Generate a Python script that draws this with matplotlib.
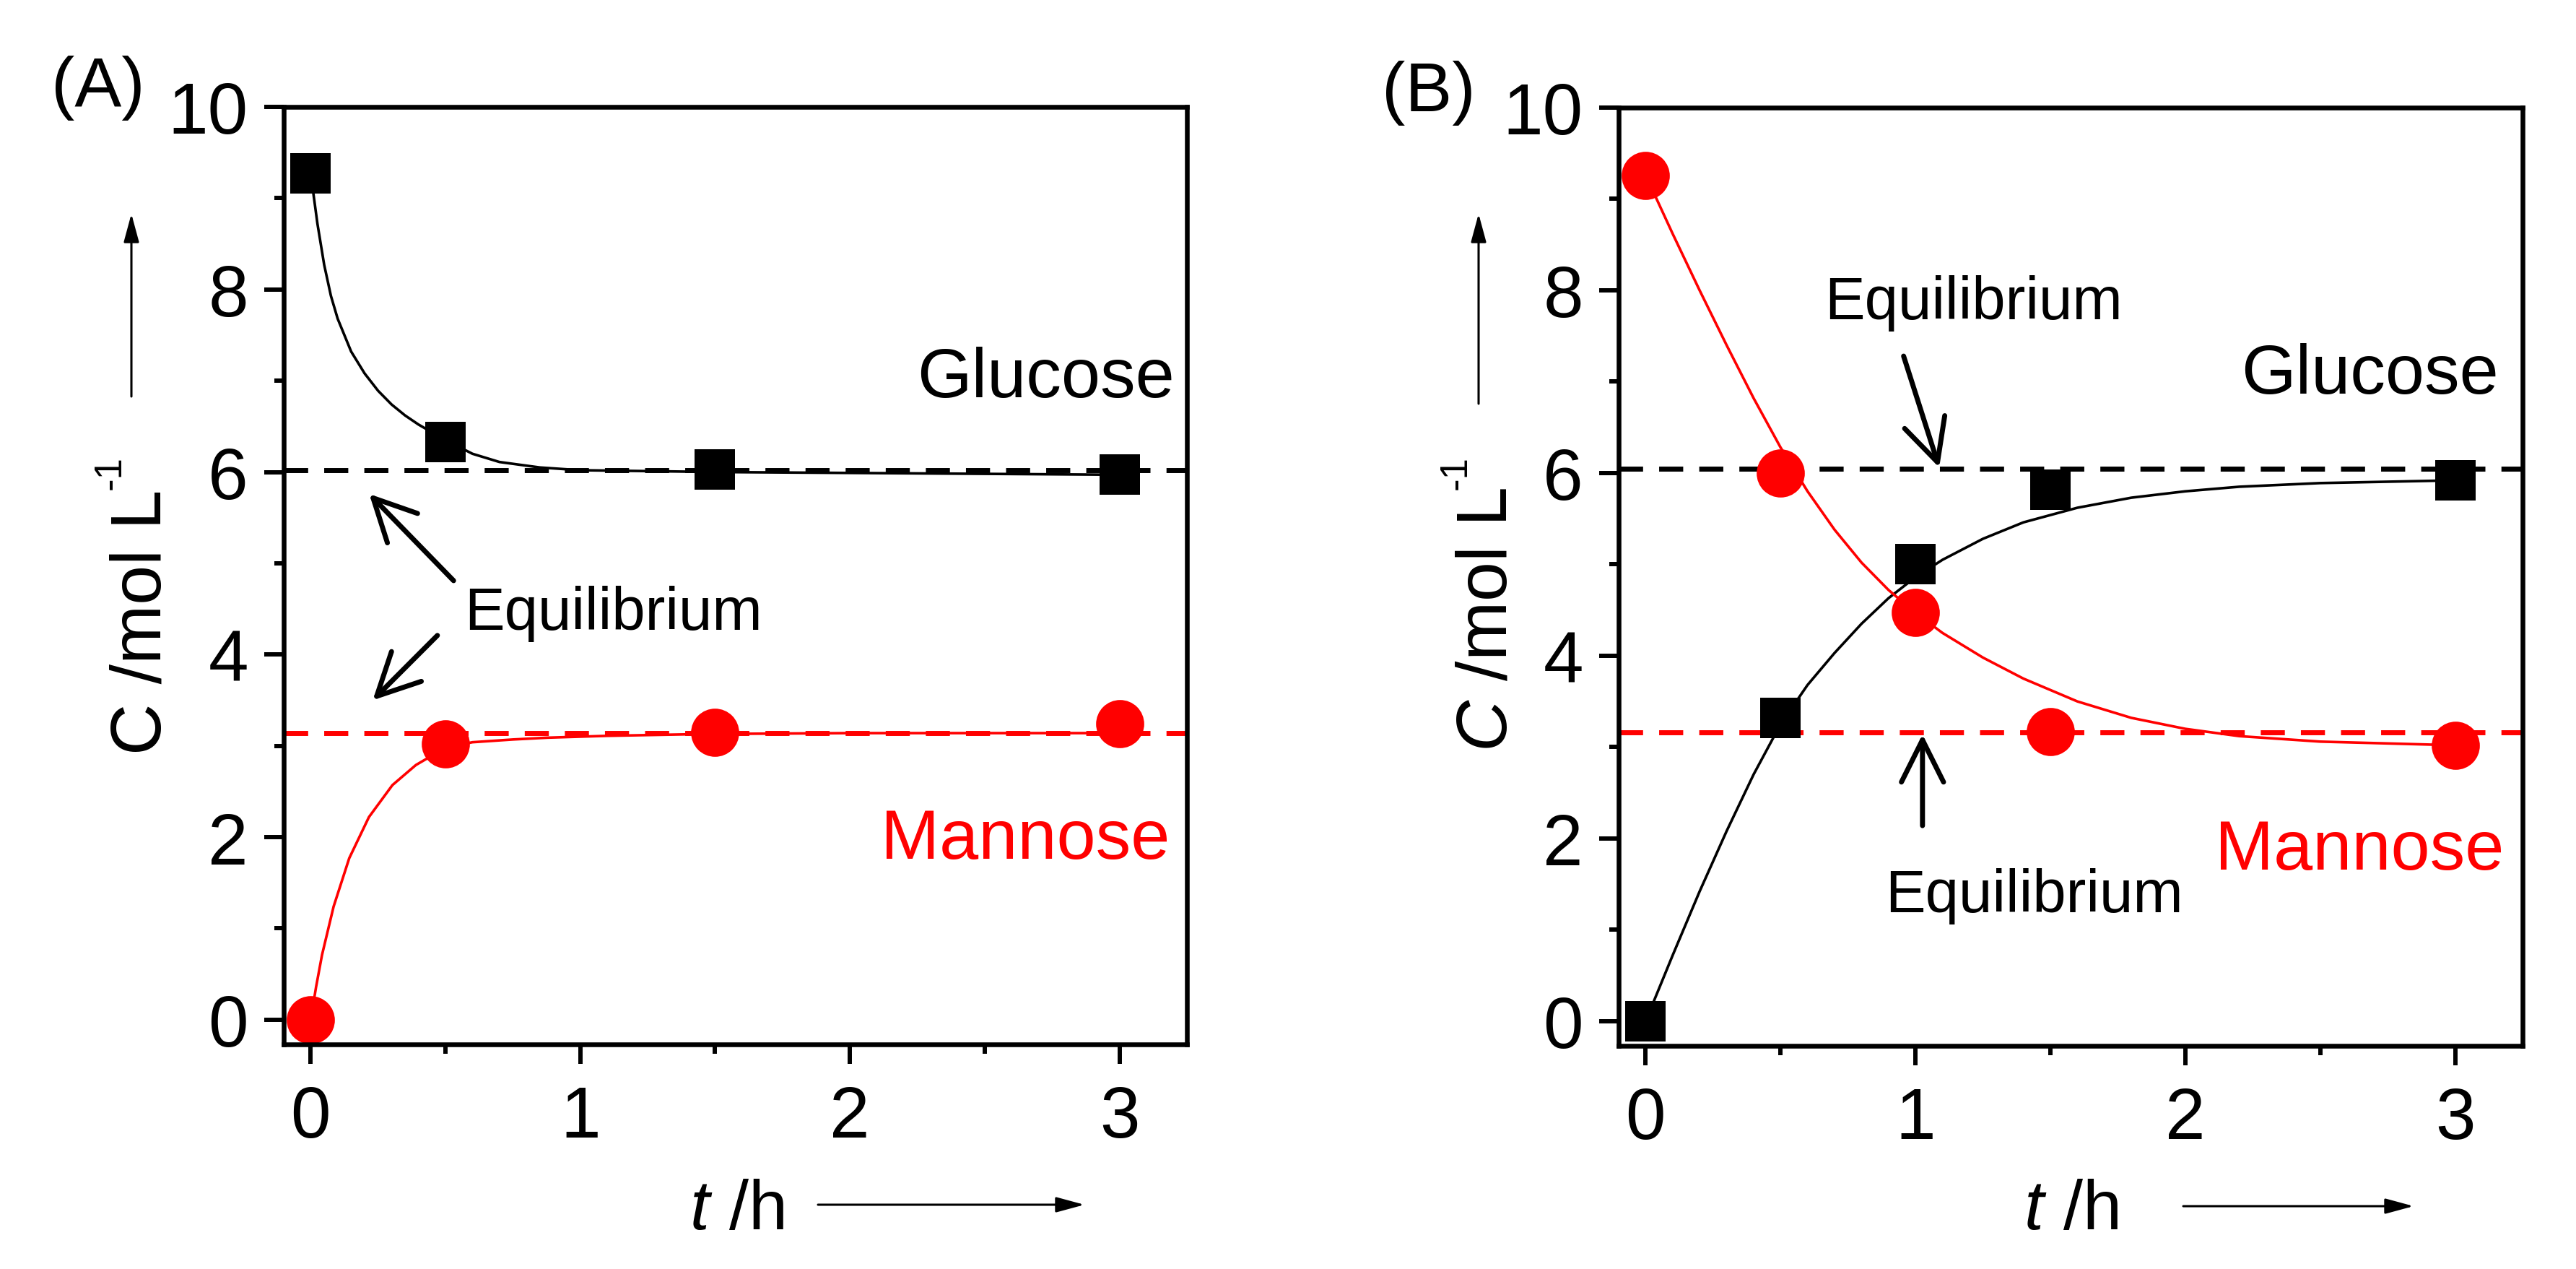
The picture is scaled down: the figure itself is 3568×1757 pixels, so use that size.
import matplotlib
matplotlib.use("Agg")
import matplotlib.pyplot as plt
from matplotlib.transforms import Bbox, TransformedBbox

plt.rcParams['font.family'] = ['Liberation Sans', 'DejaVu Sans']
plt.rcParams['mathtext.fontset'] = 'custom'
plt.rcParams['mathtext.rm'] = 'Liberation Sans'
plt.rcParams['mathtext.it'] = 'Liberation Sans:italic'

W, H = 3568, 1758

# ---- panel A data ----
t_a = [0, 0.5, 1.5, 3]
glucose_a = [9.27, 6.33, 6.03, 5.97]
mannose_a = [0.0, 3.02, 3.15, 3.24]
eq_glucose_a = 6.02
eq_mannose_a = 3.14

# fitted curves
fit_t_glu_a = [0, 0.025, 0.05, 0.075, 0.1, 0.15, 0.2, 0.25, 0.3, 0.35, 0.4, 0.5,
               0.6, 0.7, 0.85, 1.0, 1.25, 1.5, 2.0, 2.5, 3.0]
fit_glu_a = [9.27, 8.72, 8.27, 7.93, 7.68, 7.32, 7.08, 6.89, 6.74, 6.62, 6.52, 6.35,
             6.20, 6.11, 6.05, 6.02, 6.01, 6.00, 5.99, 5.98, 5.97]
fit_t_man_a = [0, 0.02, 0.042, 0.085, 0.143, 0.216, 0.303, 0.39, 0.5, 0.6, 0.75,
               0.88, 1.1, 1.46, 2.0, 2.5, 3.0]
fit_man_a = [0.0, 0.36, 0.71, 1.24, 1.77, 2.22, 2.57, 2.79, 2.98, 3.04, 3.07,
             3.09, 3.11, 3.13, 3.14, 3.14, 3.14]

# ---- panel B data ----
t_b = [0, 0.5, 1, 1.5, 3]
glucose_b = [0.0, 3.32, 5.0, 5.82, 5.92]
mannose_b = [9.26, 6.0, 4.47, 3.17, 3.02]
eq_glucose_b = 6.05
eq_mannose_b = 3.16

fit_t_b = [0, 0.1, 0.2, 0.3, 0.4, 0.5, 0.6, 0.7, 0.8, 0.9, 1.0, 1.1, 1.25, 1.4,
           1.6, 1.8, 2.0, 2.2, 2.5, 3.0]
fit_glu_b = [0.0, 0.72, 1.42, 2.08, 2.7, 3.25, 3.68, 4.03, 4.35, 4.63, 4.86, 5.05,
             5.28, 5.46, 5.62, 5.73, 5.8, 5.85, 5.89, 5.92]
fit_man_b = [9.26, 8.62, 8.0, 7.4, 6.82, 6.28, 5.8, 5.38, 5.02, 4.72, 4.47, 4.25,
             3.98, 3.75, 3.5, 3.32, 3.2, 3.12, 3.06, 3.02]

x_major = [0, 1, 2, 3]
x_minor = [0.5, 1.5, 2.5]
y_major = [0, 2, 4, 6, 8, 10]
y_minor = [1, 3, 5, 7, 9]

RED = '#ff0000'


def px(x, y):
    # figure pixel (from top-left) -> figure fraction
    return x / W, 1 - y / H


def make_axes(fig, left, top, right, bottom):
    ax = fig.add_axes([left / W, 1 - bottom / H, (right - left) / W, (bottom - top) / H])
    ax.set_xlim(-0.1, 3.25)
    ax.set_ylim(-0.27, 10)
    ax.set_xticks(x_major)
    ax.set_xticks(x_minor, minor=True)
    ax.set_yticks(y_major)
    ax.set_yticks(y_minor, minor=True)
    ax.tick_params(which='both', direction='out', width=4.3, top=False, right=False)
    ax.tick_params(which='major', length=19.4, labelsize=72)
    ax.tick_params(which='minor', length=9.4)
    ax.tick_params(axis='x', pad=20)
    ax.tick_params(axis='y', pad=16)
    for sp in ax.spines.values():
        sp.set_linewidth(4.7)
        sp.set_zorder(5)
    return ax


def eq_arrow(ax, tail, tip):
    ax.annotate('', xy=tip, xytext=tail,
                arrowprops=dict(arrowstyle='->,head_length=0.42,head_width=0.21',
                                mutation_scale=100, lw=5, color='black',
                                shrinkA=0, shrinkB=0))


def axis_arrow(fig, start, end):
    fig.add_artist(matplotlib.patches.FancyArrowPatch(
        px(*start), px(*end), transform=fig.transFigure,
        arrowstyle='-|>,head_length=2.4,head_width=0.65', mutation_scale=10,
        lw=2.2, color='black', shrinkA=0, shrinkB=0))


def y_label(fig, x_base, y_start, main):
    # rotated label "C /mol L" plus a small "-1" superscript
    fig.text(*px(x_base, y_start), main, fontsize=71, rotation=90,
             rotation_mode='anchor', ha='left', va='baseline')
    fig.text(*px(x_base - 56, 678), '-1', fontsize=38, rotation=90,
             rotation_mode='anchor', ha='left', va='baseline')


def panel_label(fig, x, y, s):
    t = fig.text(*px(x, y), s, fontsize=70, ha='left', va='baseline')
    # the original figure is cropped just above the panel letters
    t.set_clip_box(TransformedBbox(Bbox([[0, 0], [1, 1 - 77 / H]]), fig.transFigure))


fig = plt.figure(figsize=(W / 100, H / 100), dpi=100)

dash = (4.8, 3.2)

# ---------------- panel A ----------------
ax = make_axes(fig, 393, 149, 1644, 1447)
ax.axhline(eq_glucose_a, color='black', lw=5, dashes=dash, zorder=2)
ax.axhline(eq_mannose_a, color=RED, lw=5, dashes=dash, zorder=2)
ax.plot(fit_t_glu_a, fit_glu_a, color='black', lw=2.6, zorder=2)
ax.plot(fit_t_man_a, fit_man_a, color=RED, lw=2.6, zorder=2)
ax.plot(t_a, glucose_a, ls='none', marker='s', ms=41, mew=0, color='black',
        zorder=3, clip_on=False)
ax.plot(t_a, mannose_a, ls='none', marker='o', ms=48, mew=0, color=RED,
        zorder=3, clip_on=False)
ax.text(3.203, 6.83, 'Glucose', fontsize=70, ha='right', va='baseline')
ax.text(3.187, 1.77, 'Mannose', fontsize=70, ha='right', va='baseline', color=RED)
ax.text(0.57, 4.28, 'Equilibrium', fontsize=60, ha='left', va='baseline')
eq_arrow(ax, (0.53, 4.81), (0.217, 5.76))
eq_arrow(ax, (0.47, 4.21), (0.23, 3.50))

y_label(fig, 223, 1045, 'C /mol L')
axis_arrow(fig, (182, 550), (182, 297))
fig.text(*px(1020, 1702), r'$t$ /h', fontsize=70, ha='center', va='baseline')
axis_arrow(fig, (1133, 1669), (1502, 1669))
panel_label(fig, 71, 147, '(A)')

# ---------------- panel B ----------------
ax = make_axes(fig, 2242, 150, 3494, 1449)
ax.axhline(eq_glucose_b, color='black', lw=5, dashes=dash, zorder=2)
ax.axhline(eq_mannose_b, color=RED, lw=5, dashes=dash, zorder=2)
ax.plot(fit_t_b, fit_glu_b, color='black', lw=2.6, zorder=2)
ax.plot(fit_t_b, fit_man_b, color=RED, lw=2.6, zorder=2)
ax.plot(t_b, glucose_b, ls='none', marker='s', ms=41, mew=0, color='black',
        zorder=3, clip_on=False)
ax.plot(t_b, mannose_b, ls='none', marker='o', ms=48, mew=0, color=RED,
        zorder=3, clip_on=False)
ax.text(3.161, 6.88, 'Glucose', fontsize=70, ha='right', va='baseline')
ax.text(3.182, 1.67, 'Mannose', fontsize=70, ha='right', va='baseline', color=RED)
ax.text(0.662, 7.69, 'Equilibrium', fontsize=60, ha='left', va='baseline')
ax.text(0.887, 1.20, 'Equilibrium', fontsize=60, ha='left', va='baseline')
eq_arrow(ax, (0.956, 7.28), (1.088, 6.06))
eq_arrow(ax, (1.026, 2.14), (1.026, 3.14))

y_label(fig, 2087, 1041, r'$C$ /mol L')
axis_arrow(fig, (2048, 560), (2048, 297))
fig.text(*px(2868, 1702), r'$t$ /h', fontsize=70, ha='center', va='baseline')
axis_arrow(fig, (3024, 1671), (3343, 1671))
panel_label(fig, 1914, 154, '(B)')

fig.savefig('out.png', dpi=100)
